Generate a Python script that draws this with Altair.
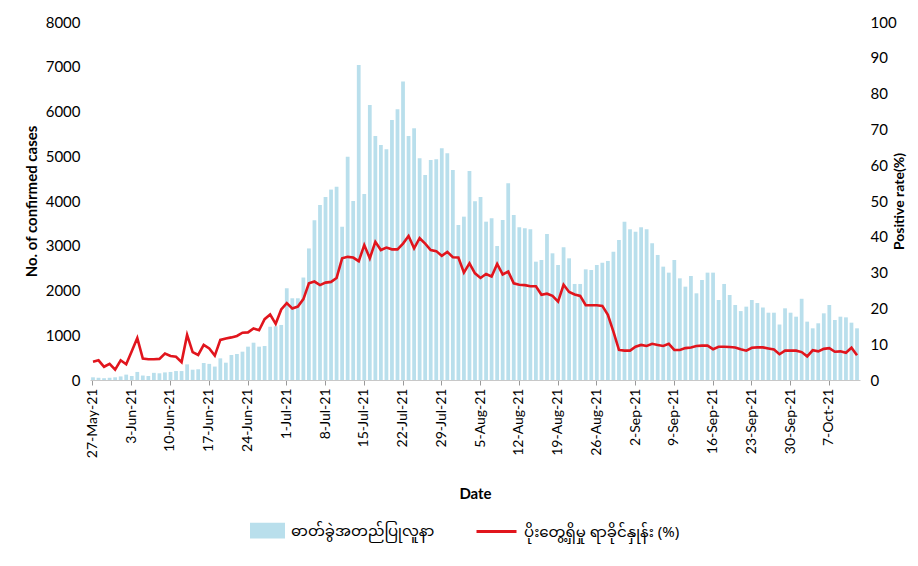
import altair as alt
import pandas as pd

START_DATE = "2021-05-27"

cases = [
    60, 50, 40, 50, 60, 80, 120, 90, 180, 100,
    90, 160, 150, 170, 180, 200, 200, 350, 230, 240,
    380, 360, 300, 484, 387, 559, 581, 633, 745, 834,
    745, 760, 1190, 1200, 1230, 2050, 1826, 1826, 2290, 2940,
    3570, 3911, 4090, 4255, 4321, 3427, 4991, 4000, 7040, 4157,
    6146, 5453, 5252, 5156, 5811, 6050, 6668, 5453, 5625, 4955,
    4582, 4917, 4932, 5178, 5066, 4693, 3464, 3650, 4671, 3995,
    4090, 3538, 3614, 2995, 3576, 4396, 3688, 3413, 3390, 3368,
    2644, 2682, 3263, 2831, 2570, 2965, 2719, 2146, 2146, 2473,
    2458, 2570, 2622, 2660, 2868, 3129, 3539, 3368, 3315, 3413,
    3368, 3055, 2794, 2533, 2399, 2682, 2272, 2086, 2324, 1937,
    2235, 2399, 2399, 1788, 2146, 1900, 1676, 1540, 1639, 1788,
    1720, 1620, 1504, 1504, 1240, 1602, 1504, 1415, 1815, 1304,
    1155, 1267, 1490, 1676, 1341, 1415, 1400, 1281, 1155,
]

positive_rate = [
    5.1, 5.5, 3.7, 4.5, 2.9, 5.5, 4.4, 8.0, 11.7, 6.0,
    5.8, 5.8, 5.9, 7.4, 6.7, 6.5, 5.0, 12.6, 7.8, 7.0,
    9.8, 8.8, 6.8, 11.2, 11.6, 11.9, 12.3, 13.2, 13.3, 14.4,
    13.9, 17.0, 18.3, 15.7, 19.7, 21.5, 20.0, 20.5, 22.6, 27.0,
    27.5, 26.5, 27.2, 27.4, 28.5, 34.0, 34.4, 34.2, 33.2, 37.7,
    34.0, 38.6, 36.3, 37.0, 36.5, 36.5, 38.1, 40.2, 36.8, 39.6,
    38.1, 36.3, 36.0, 34.7, 35.8, 34.3, 34.2, 30.0, 32.6, 29.8,
    28.5, 29.6, 28.9, 32.4, 29.5, 30.3, 27.0, 26.6, 26.5, 26.2,
    26.2, 23.8, 24.1, 23.5, 21.9, 26.6, 24.6, 23.9, 23.5, 20.9,
    20.9, 20.9, 20.7, 18.2, 13.5, 8.4, 8.2, 8.2, 9.3, 9.8,
    9.5, 10.1, 9.8, 9.5, 10.1, 8.4, 8.4, 8.9, 9.1, 9.5,
    9.6, 9.6, 8.6, 9.3, 9.3, 9.2, 9.1, 8.6, 8.2, 9.0,
    9.1, 9.1, 8.8, 8.5, 7.2, 8.2, 8.2, 8.2, 7.8, 6.6,
    8.3, 8.0, 8.7, 8.9, 7.9, 8.0, 7.6, 9.0, 6.9,
]

BAR_NAME = "ဓာတ်ခွဲအတည်ပြုလူနာ"
LINE_NAME = "ပိုးတွေ့ရှိမှု ရာခိုင်နှုန်း (%)"

left_ticks = list(range(0, 8001, 1000))
right_ticks = list(range(0, 101, 10))

BLUE = "#b9dfec"
RED = "#e1151d"
FONT = "Lato"
MM_FONT = "Noto Sans Myanmar, Padauk, Myanmar Text, Noto Sans, sans-serif"

dates = pd.date_range(START_DATE, periods=len(cases), freq="D")
date_labels = [f"{d.day}-{d.strftime('%b-%y')}" for d in dates]
tick_labels = date_labels[::7]

df = pd.DataFrame({
    "date": date_labels,
    "order": list(range(len(date_labels))),
    "cases": cases,
    "rate": positive_rate,
    "bar_s": BAR_NAME,
    "line_s": LINE_NAME,
})

x_enc = alt.X(
    "date:N",
    sort=date_labels,
    scale=alt.Scale(paddingInner=0.32, paddingOuter=0.2),
    axis=alt.Axis(
        values=tick_labels,
        labelAngle=270,
        labelFontSize=14,
        labelPadding=3,
        tickSize=5,
        tickColor="#9a9a9a",
        domainColor="#c8c8c8",
        title="Date",
        titleFontSize=15,
        titleFontWeight="bold",
        titleBaseline="middle",
        titleY=113,
    ),
)

bars = alt.Chart(df).mark_bar().encode(
    x=x_enc,
    y=alt.Y(
        "cases:Q",
        scale=alt.Scale(domain=[0, 8000], nice=False),
        axis=alt.Axis(
            orient="left",
            values=left_ticks,
            format="d",
            grid=False,
            domain=False,
            ticks=False,
            labelPadding=10,
            labelFontSize=15,
            title="No. of confirmed cases",
            titleFontSize=15,
            titleFontWeight="bold",
            titlePadding=6,
        ),
    ),
    fill=alt.Fill(
        "bar_s:N",
        scale=alt.Scale(domain=[BAR_NAME], range=[BLUE]),
        legend=alt.Legend(
            orient="none",
            legendX=160,
            legendY=491,
            title=None,
            symbolType="M-1,-0.45L1,-0.45L1,0.45L-1,0.45Z",
            symbolSize=1225,
            symbolStrokeWidth=0,
            labelFont=MM_FONT,
            labelFontSize=15,
            labelLimit=400,
            labelOffset=6,
        ),
    ),
)

line = alt.Chart(df).mark_line(strokeWidth=2.6).encode(
    x=x_enc,
    y=alt.Y(
        "rate:Q",
        scale=alt.Scale(domain=[0, 100], nice=False),
        axis=alt.Axis(
            orient="right",
            values=right_ticks,
            format="d",
            grid=False,
            domain=False,
            ticks=False,
            labelPadding=10,
            labelFontSize=15,
            title="Positive rate(%)",
            titleFontSize=14,
            titleFontWeight="bold",
            titleAngle=270,
            titleAlign="center",
            titleBaseline="middle",
            titleX=39,
            titleY=179,
        ),
    ),
    order=alt.Order("order:Q"),
    stroke=alt.Stroke(
        "line_s:N",
        scale=alt.Scale(domain=[LINE_NAME], range=[RED]),
        legend=alt.Legend(
            orient="none",
            legendX=385,
            legendY=488,
            title=None,
            symbolType="stroke",
            symbolSize=1600,
            symbolStrokeWidth=3,
            labelFont=MM_FONT,
            labelFontSize=15,
            labelLimit=400,
            labelOffset=6,
        ),
    ),
)

chart = (
    alt.layer(bars, line)
    .resolve_scale(y="independent", fill="independent", stroke="independent")
    .properties(
        width=770,
        height=358,
        padding={"left": 82, "top": 14, "right": 50, "bottom": 178},
        autosize=alt.AutoSizeParams(type="none"),
        background="white",
    )
    .configure_view(stroke=None)
    .configure_axis(labelFont=FONT, titleFont=FONT, labelColor="#000000", titleColor="#000000")
    .configure_legend(labelColor="#000000")
)

chart.save("out.html", embed_options={"renderer": "svg", "actions": False})
